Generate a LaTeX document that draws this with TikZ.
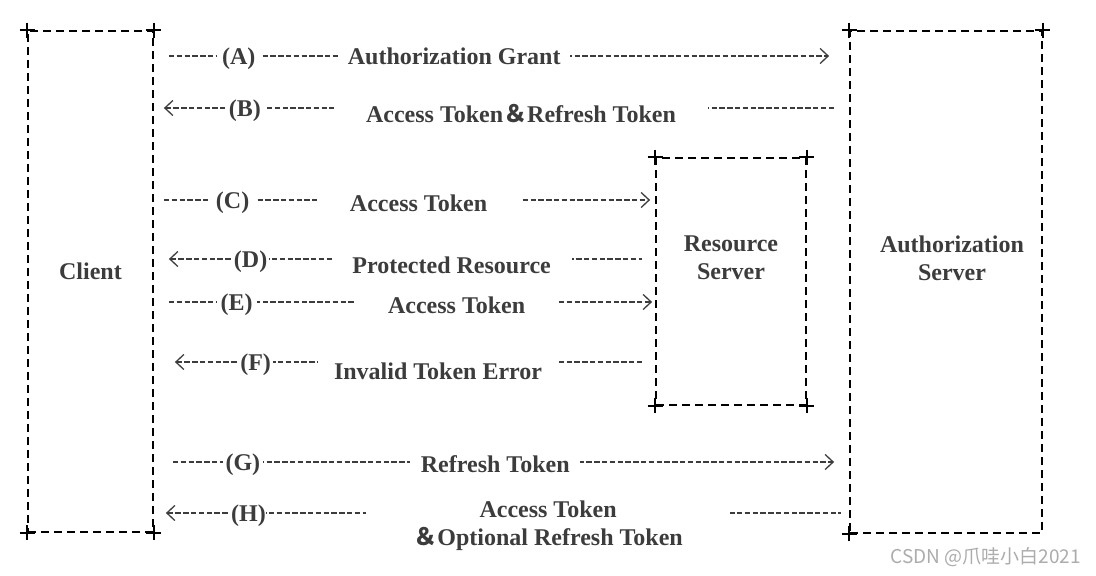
\documentclass[tikz,border=0pt]{standalone}
\usepackage{fontspec}
\setmainfont{Liberation Serif}
\newfontfamily\cjk{Noto Sans CJK SC}
\usetikzlibrary{arrows.meta}
\definecolor{ink}{HTML}{3C3C3C}

\begin{document}
\begin{tikzpicture}[x=1pt,y=-1pt,
    font=\bfseries\fontsize{24}{28}\selectfont,
    >={Straight Barb[length=8pt,width=15pt,line width=1.3pt]},
    srvbox/.style={draw=black, line width=1.8pt, dash pattern=on 8pt off 5pt, inner sep=0pt},
    title/.style={text=ink, align=center},
    msg/.style={draw=ink, line width=1.3pt, dash pattern=on 5.5pt off 2.3pt},
    gap/.style={fill=white, text=ink, inner sep=0pt, minimum height=30pt, minimum width=#1,
                text height=17pt, text depth=0pt},
    cross/.style={draw=black, line width=2.2pt}]
   \useasboundingbox[fill=white] (0,0) rectangle (1096,576);

   % the three parties
   \node[srvbox, minimum width=125pt, minimum height=501pt,
         label={[title, yshift=10pt]center:Client}] (cl) at (90.5,281.5) {};
   \node[srvbox, minimum width=150pt, minimum height=247pt,
         label={[title, yshift=24pt]center:{Resource\\Server}}] (rs) at (731,281.5) {};
   \node[srvbox, minimum width=192pt, minimum height=502pt,
         label={[title, xshift=6pt, yshift=24pt]center:{Authorization\\Server}}] (as) at (946,282) {};

   \foreach \b/\c in {cl/north west, cl/north east, cl/south west, cl/south east,
                      rs/north west, rs/north east, rs/south west, rs/south east,
                      as/north west, as/north east, as/south west}
     \draw[cross] (\b.\c) +(-7.5,0) -- +(7.5,0) +(0,-7.5) -- +(0,7.5);

   % client <-> authorization server
   \draw[msg, ->, shorten <=15pt, shorten >=20pt] (cl.east |- 0,56) --
     node[gap=44pt, pos=.122] {(A)}
     node[gap=232pt, pos=.432] {Authorization Grant} (as.west |- 0,56);
   \draw[msg, <-, shorten <=10pt, shorten >=14pt] (cl.east |- 0,108) --
     node[gap=40pt, pos=.131] {(B)}
     node[gap=374pt, pos=.528, yshift=-6pt] {Access Token{\cjk ＆}Refresh Token} (as.west |- 0,108);

   % client <-> resource server
   \draw[msg, ->, shorten <=10pt, shorten >=5pt] (cl.east |- 0,200) --
     node[gap=44pt, pos=.157] {(C)}
     node[gap=203pt, pos=.528, yshift=-3pt] {Access Token} (rs.west |- 0,200);
   \draw[msg, <-, shorten <=15pt, shorten >=13pt] (cl.east |- 0,259) --
     node[gap=36pt, pos=.193] {(D)}
     node[gap=240pt, pos=.594, yshift=-6pt] {Protected Resource} (rs.west |- 0,259);
   \draw[msg, ->, shorten <=15pt, shorten >=3pt] (cl.east |- 0,302) --
     node[gap=40pt, pos=.165] {(E)}
     node[gap=204pt, pos=.604, yshift=-3pt] {Access Token} (rs.west |- 0,302);
   \draw[msg, <-, shorten <=21pt, shorten >=11pt] (cl.east |- 0,362) --
     node[gap=34pt, pos=.203] {(F)}
     node[gap=240pt, pos=.567, yshift=-9pt] {Invalid Token Error} (rs.west |- 0,362);

   % refresh
   \draw[msg, ->, shorten <=19pt, shorten >=15pt] (cl.east |- 0,462) --
     node[gap=40pt, pos=.128] {(G)}
     node[gap=170pt, pos=.491, yshift=-2pt] {Refresh Token} (as.west |- 0,462);
   \draw[msg, <-, shorten <=12pt, shorten >=8pt] (cl.east |- 0,513) --
     node[gap=36pt, pos=.136] {(H)}
     node[gap=364pt, pos=.567, yshift=-12.5pt, text height=, text depth=, align=center]
       {Access Token\\{\cjk ＆}Optional Refresh Token} (as.west |- 0,513);

   \node[text=gray!65, font=\cjk\mdseries\fontsize{19}{22}\selectfont] (wm) at (986,557) {CSDN @爪哇小白2021};
\end{tikzpicture}
\end{document}
